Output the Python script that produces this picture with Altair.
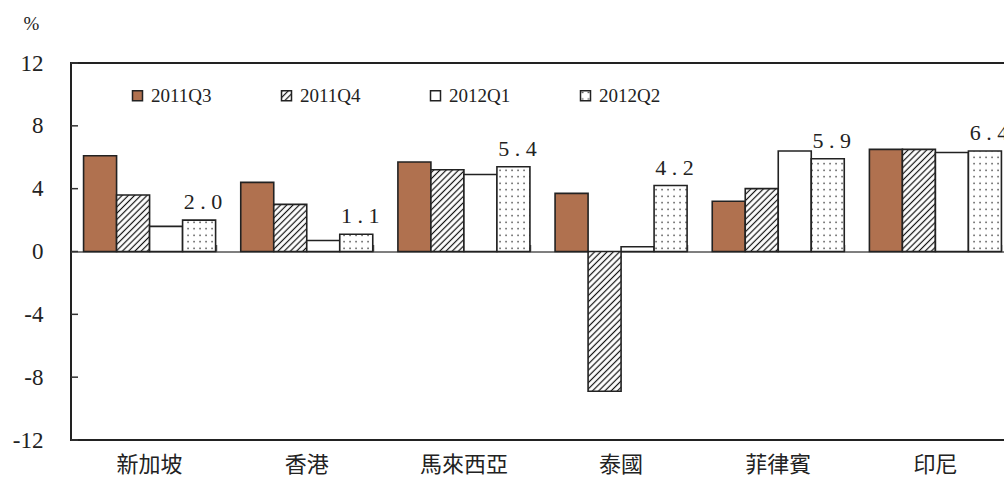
import altair as alt
import pandas as pd
import jinja2

countries = ["新加坡", "香港", "馬來西亞", "泰國", "菲律賓", "印尼"]
quarters = ["2011Q3", "2011Q4", "2012Q1", "2012Q2"]
v_2011q3 = [6.1, 4.4, 5.7, 3.7, 3.2, 6.5]
v_2011q4 = [3.6, 3.0, 5.2, -8.9, 4.0, 6.5]
v_2012q1 = [1.6, 0.7, 4.9, 0.3, 6.4, 6.3]
v_2012q2 = [2.0, 1.1, 5.4, 4.2, 5.9, 6.4]
y_ticks = [-12, -8, -4, 0, 4, 8, 12]

rows = []
for q, vals in zip(quarters, [v_2011q3, v_2011q4, v_2012q1, v_2012q2]):
    for c, v in zip(countries, vals):
        rows.append({"country": c, "quarter": q, "value": v})
df = pd.DataFrame(rows)
tick_df = pd.DataFrame({"tick": y_ticks})

fills = ["#B0714F", "url(#hatch)", "#FFFFFF", "url(#dots)"]
serif = "Liberation Serif"
ydom = alt.Scale(domain=[-12, 12], nice=False, zero=False)

bars = alt.Chart(df).mark_bar(stroke="#222222", strokeWidth=1.6).encode(
    x=alt.X(
        "country:N", sort=countries,
        scale=alt.Scale(paddingInner=0.16, paddingOuter=0.08),
        axis=alt.Axis(orient="bottom", title=None, ticks=False, domain=False,
                      labelAngle=0, labelFont="Noto Sans CJK TC", labelFontSize=22,
                      labelColor="#222222", labelPadding=14),
    ),
    xOffset=alt.XOffset("quarter:N", sort=quarters,
                        scale=alt.Scale(paddingInner=0, paddingOuter=0)),
    y=alt.Y(
        "value:Q", scale=ydom,
        axis=alt.Axis(values=y_ticks, title="%", titleAngle=0, titleX=-40, titleY=-40,
                      titleAlign="center", titleBaseline="middle",
                      titleFont=serif, titleFontSize=19, titleFontWeight="normal",
                      titleColor="#222222",
                      labelFont=serif, labelFontSize=23, labelColor="#222222",
                      labelPadding=28, ticks=False, domain=False, grid=False,
                      labelExpr="datum.value < 0 ? '-' + abs(datum.value) : '' + datum.value"),
    ),
    fill=alt.Fill(
        "quarter:N", sort=quarters,
        scale=alt.Scale(domain=quarters, range=fills),
        legend=alt.Legend(orient="none", legendX=57, legendY=23, direction="horizontal",
                          columns=4, title=None, symbolType="square", symbolSize=100,
                          symbolStrokeColor="#222222", symbolStrokeWidth=1.5,
                          labelFont=serif, labelFontSize=19, labelColor="#222222",
                          labelOffset=4, columnPadding=65, padding=0),
    ),
)

labels = alt.Chart(df).transform_filter(
    alt.datum.quarter == "2012Q2"
).transform_calculate(
    label="join(split(format(datum.value, '.1f'), ''), ' ')"
).mark_text(font=serif, fontSize=22, color="#222222", baseline="alphabetic",
            dy=-11, dx=4).encode(
    x=alt.X("country:N", sort=countries,
            axis=alt.Axis(orient="top", offset=-188.5, labels=False, title=None,
                          tickBand="extent", tickSize=7, tickColor="#555555",
                          tickWidth=1.5, domainColor="#555555", domainWidth=1.5,
                          grid=False)),
    xOffset=alt.XOffset("quarter:N", sort=quarters),
    y=alt.Y("value:Q", scale=ydom, axis=None),
    text="label:N",
)

inner_ticks = alt.Chart(tick_df).mark_rule(color="#333333", strokeWidth=1.5).encode(
    y=alt.Y("tick:Q", scale=ydom, axis=None),
    x=alt.value(0),
    x2=alt.value(7),
)

chart = alt.layer(bars, labels, inner_ticks).resolve_axis(
    x="independent", y="independent"
).properties(
    width=943, height=377,
    autosize=alt.AutoSizeParams(type="none"),
    padding={"left": 71, "top": 63, "right": 0, "bottom": 42},
    background="white",
).configure_view(
    stroke="#222222", strokeWidth=2
)

PAGE = jinja2.Template("""<!DOCTYPE html>
<html>
<head>
<meta charset="utf-8">
<style>
html, body { margin: 0; padding: 0; overflow: hidden; background: #ffffff; }
</style>
<script type="text/javascript" src="{{ base_url }}/vega@{{ vega_version }}"></script>
<script type="text/javascript" src="{{ base_url }}/vega-lite@{{ vegalite_version }}"></script>
<script type="text/javascript" src="{{ base_url }}/vega-embed@{{ vegaembed_version }}"></script>
</head>
<body>
<svg width="0" height="0" style="position:absolute;left:0;top:0" aria-hidden="true">
<defs>
<pattern id="hatch" patternUnits="userSpaceOnUse" width="4.4" height="4.4" patternTransform="rotate(45)">
<rect width="4.4" height="4.4" fill="#ffffff"/>
<line x1="2.2" y1="-1" x2="2.2" y2="5.4" stroke="#111111" stroke-width="1.2"/>
</pattern>
<pattern id="dots" patternUnits="userSpaceOnUse" width="6" height="6.5">
<rect width="6" height="6.5" fill="#ffffff"/>
<rect x="2.4" y="2.6" width="1.3" height="1.3" fill="#111111"/>
</pattern>
</defs>
</svg>
<div id="{{ output_div }}"></div>
<script type="text/javascript">
(function() {
  var spec = {{ spec }};
  var embedOpt = {{ embed_options }};
  vegaEmbed("#{{ output_div }}", spec, embedOpt).catch(function(err) {
    document.getElementById("{{ output_div }}").innerHTML = String(err);
  });
})();
</script>
</body>
</html>
""")

chart.save("out.html", embed_options={"renderer": "svg", "actions": False}, template=PAGE)
